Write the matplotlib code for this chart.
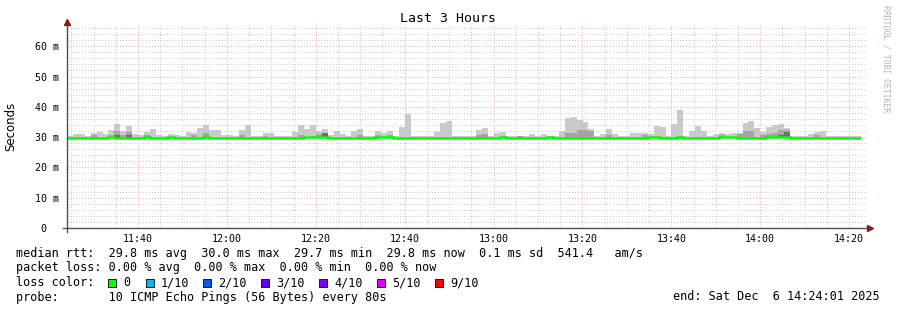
import matplotlib
matplotlib.use("Agg")
import matplotlib.pyplot as plt
from matplotlib.patches import Rectangle

# ---- data: one smokeping step every 80 s, 11:24:01 -> 14:24:01 ----
start_min = 11 * 60 + 24 + 1 / 60.0
step_min = 80 / 60.0

# top of the smoke (slowest ping), ms
ping_max = [30.2, 31.0, 31.0, 30.2, 31.2, 31.6, 31.1, 32.3, 34.3, 32.0,
            33.6, 31.0, 30.6, 31.6, 32.6, 30.8, 30.2, 31.0, 30.8, 30.2,
            31.6, 31.2, 33.0, 34.0, 32.4, 32.4, 30.8, 30.6, 30.3, 32.4,
            33.9, 30.2, 30.4, 31.3, 31.3, 30.4, 30.3, 30.3, 31.8, 33.9,
            32.6, 33.9, 32.0, 32.6, 30.6, 32.0, 30.9, 30.2, 32.0, 32.6,
            30.2, 30.5, 32.0, 31.3, 32.0, 30.3, 33.3, 37.6, 30.5, 30.3,
            30.2, 30.3, 31.6, 34.6, 35.3, 30.2, 30.3, 30.3, 30.2, 32.4,
            33.1, 30.2, 31.3, 31.6, 30.5, 30.2, 30.5, 30.2, 30.9, 30.5,
            30.9, 30.2, 30.2, 32.0, 36.4, 36.8, 35.5, 35.1, 32.7, 30.2,
            30.9, 32.7, 30.9, 30.3, 30.2, 31.3, 31.3, 31.3, 30.9, 33.6,
            33.3, 30.2, 34.3, 38.9, 30.5, 32.0, 33.6, 32.0, 30.2, 30.9,
            31.3, 30.9, 31.3, 31.3, 34.6, 35.3, 33.1, 31.6, 33.3, 33.9,
            34.3, 33.1, 30.3, 30.2, 30.3, 30.9, 31.6, 32.0, 30.5, 30.2,
            30.2, 30.2, 30.3, 30.2]

# inner smoke band (darker grey), ms
ping_mid = [29.8, 29.8, 29.8, 29.8, 30.8, 29.8, 29.8, 30.6, 32.0, 30.6,
            31.8, 29.8, 29.8, 30.6, 29.8, 29.8, 29.8, 29.8, 29.8, 29.8,
            29.8, 30.8, 29.8, 31.3, 29.8, 29.8, 29.8, 29.8, 29.8, 30.6,
            29.8, 29.8, 29.8, 30.5, 29.8, 29.8, 29.8, 29.8, 29.8, 30.6,
            29.8, 29.8, 31.0, 31.4, 29.8, 29.8, 29.8, 29.8, 29.8, 30.6,
            29.8, 29.8, 30.6, 29.8, 30.6, 29.8, 29.8, 29.8, 29.8, 29.8,
            29.8, 29.8, 29.8, 29.8, 29.8, 29.8, 29.8, 29.8, 29.8, 30.8,
            31.0, 29.8, 29.8, 29.8, 29.8, 29.8, 30.5, 29.8, 29.8, 29.8,
            29.8, 29.8, 29.8, 29.8, 31.2, 31.5, 32.5, 32.5, 31.9, 29.8,
            29.8, 30.6, 29.8, 29.8, 29.8, 29.8, 29.8, 30.6, 29.8, 29.8,
            29.8, 29.8, 29.8, 29.8, 29.8, 29.8, 29.8, 29.8, 29.8, 29.8,
            30.6, 29.8, 29.8, 30.9, 32.0, 32.0, 29.8, 30.6, 30.9, 31.5,
            32.5, 32.5, 29.8, 29.8, 29.8, 29.8, 30.6, 29.8, 29.8, 29.8,
            29.8, 29.8, 29.8, 29.8]

# innermost band (darkest grey), ms
ping_dark = [29.8] * 8 + [30.8, 29.8, 30.6] + [29.8] * 32 + [31.3] + \
            [29.8] * 76 + [30.8, 31.8] + [29.8] * 12

# median rtt, ms
median = [29.8, 29.8, 29.8, 29.8, 29.8, 29.8, 29.8, 29.9, 29.8, 29.8,
          29.8, 29.8, 29.8, 29.9, 29.8, 29.8, 29.8, 29.9, 29.8, 29.8,
          29.8, 29.8, 29.8, 29.9, 29.8, 29.8, 29.8, 29.8, 29.8, 29.8,
          29.8, 29.8, 29.8, 29.8, 29.8, 29.8, 29.8, 29.8, 29.8, 29.8,
          29.9, 29.9, 30.0, 29.9, 29.8, 29.8, 29.8, 29.8, 29.8, 29.8,
          29.8, 29.8, 29.9, 29.9, 29.9, 29.8, 29.8, 29.8, 29.8, 29.8,
          29.8, 29.8, 29.8, 29.8, 29.8, 29.8, 29.8, 29.8, 29.8, 29.8,
          29.8, 29.8, 29.8, 29.9, 29.8, 29.8, 29.8, 29.8, 29.8, 29.8,
          29.8, 29.9, 29.8, 29.8, 29.8, 29.8, 29.8, 29.8, 29.8, 29.8,
          29.8, 29.8, 29.8, 29.8, 29.8, 29.8, 29.8, 29.8, 29.9, 29.9,
          29.8, 29.8, 29.8, 29.9, 29.8, 29.8, 29.8, 29.8, 29.8, 29.8,
          29.9, 29.9, 29.9, 29.8, 29.8, 29.8, 29.8, 29.8, 29.9, 29.9,
          30.0, 29.9, 29.8, 29.8, 29.8, 29.8, 29.8, 29.8, 29.8, 29.8,
          29.8, 29.8, 29.8, 29.7]

x_ticks = [700, 720, 740, 760, 780, 800, 820, 840, 860]
x_labels = ['11:40', '12:00', '12:20', '12:40', '13:00', '13:20', '13:40', '14:00', '14:20']
y_ticks = [0, 10, 20, 30, 40, 50, 60]
y_labels = ['0  ', '10 m', '20 m', '30 m', '40 m', '50 m', '60 m']

loss_labels = ['0', '1/10', '2/10', '3/10', '4/10', '5/10', '9/10']
loss_colors = ['#00ff00', '#00b8ff', '#0059ff', '#5e00ff', '#7e00ff', '#dd00ff', '#ff0000']

legend_lines = [
    'median rtt:  29.8 ms avg  30.0 ms max  29.7 ms min  29.8 ms now  0.1 ms sd  541.4   am/s',
    'packet loss: 0.00 % avg  0.00 % max  0.00 % min  0.00 % now',
    'loss color:',
    'probe:       10 ICMP Echo Pings (56 Bytes) every 80s',
]
end_text = 'end: Sat Dec  6 14:24:01 2025'

MONO = 'DejaVu Sans Mono'
W, H = 897, 310

edges = [start_min + i * step_min for i in range(len(median) + 1)]

fig = plt.figure(figsize=(W / 100, H / 100), dpi=100)
fig.patch.set_facecolor('white')
ax = fig.add_axes([67 / W, 82 / H, 800 / W, 203 / H])
ax.set_facecolor('white')

# smoke
ax.stairs(ping_max, edges, baseline=median, fill=True, color='#cacaca', lw=0, zorder=2)
ax.stairs(ping_mid, edges, baseline=median, fill=True, color='#a4a4a4', lw=0, zorder=3)
ax.stairs(ping_dark, edges, baseline=median, fill=True, color='#6e6e6e', lw=0, zorder=4)
# median line
ax.stairs(median, edges, baseline=None, color='#00ff00', lw=1.8, zorder=6)

ax.set_xlim(start_min, start_min + 180)
ax.set_ylim(0, 67)

ax.set_xticks(x_ticks)
ax.set_xticklabels(x_labels, fontfamily=MONO, fontsize=7.2)
ax.set_xticks([start_min - 4.0167 + 5 * k for k in range(1, 37)], minor=True)
ax.set_yticks(y_ticks)
ax.set_yticklabels(y_labels, fontfamily=MONO, fontsize=7.2)
ax.set_yticks(list(range(0, 67, 2)), minor=True)
ax.tick_params(which='both', length=0)
ax.tick_params(axis='x', pad=4)
ax.tick_params(axis='y', pad=6)

ax.grid(which='minor', color='#c4c4c4', linestyle=(0, (1, 2)), lw=0.7, zorder=7)
ax.grid(which='major', color='#f0a0a0', linestyle=(0, (1, 2)), lw=0.7, zorder=8)
ax.set_axisbelow(False)

for s in ax.spines.values():
    s.set_visible(False)

# axes lines with arrows
ax.plot([0, 0], [-0.02, 1.01], transform=ax.transAxes, color='#505050', lw=1,
        clip_on=False, zorder=9)
ax.plot([-0.005, 1.003], [0, 0], transform=ax.transAxes, color='#505050', lw=1,
        clip_on=False, zorder=9)
ax.plot([0], [1.015], transform=ax.transAxes, marker='^', ms=4, color='#8b1a1a',
        clip_on=False, zorder=10)
ax.plot([1.004], [0], transform=ax.transAxes, marker='>', ms=4, color='#8b1a1a',
        clip_on=False, zorder=10)

fig.text(448 / W, 1 - 19 / H, 'Last 3 Hours', fontfamily=MONO, fontsize=9.5,
         ha='center', va='center')
fig.text(11 / W, 1 - 126 / H, 'Seconds', fontfamily='DejaVu Sans', fontsize=8.5,
         rotation=90, ha='center', va='center')
fig.text(886 / W, 1 - 5 / H, 'RRDTOOL / TOBI OETIKER', fontfamily=MONO, fontsize=5.9,
         rotation=270, ha='center', va='top', color='#b4b4b4')

line_y = [254, 268, 283, 297]
for txt, y in zip(legend_lines, line_y):
    fig.text(16 / W, 1 - y / H, txt, fontfamily=MONO, fontsize=8.5, ha='left', va='center')
fig.text(880 / W, 1 - 297 / H, end_text, fontfamily=MONO, fontsize=8.5, ha='right', va='center')

box_x = [108, 146, 203, 261, 319, 377, 435]
for bx, lab, col in zip(box_x, loss_labels, loss_colors):
    fig.patches.append(Rectangle((bx / W, 1 - 287 / H), 8 / W, 8 / H, transform=fig.transFigure,
                                 facecolor=col, edgecolor='black', lw=0.6))
    fig.text((bx + 15) / W, 1 - 283 / H, lab, fontfamily=MONO, fontsize=8.5,
             ha='left', va='center')

fig.savefig('out.png', dpi=100, facecolor='white')
